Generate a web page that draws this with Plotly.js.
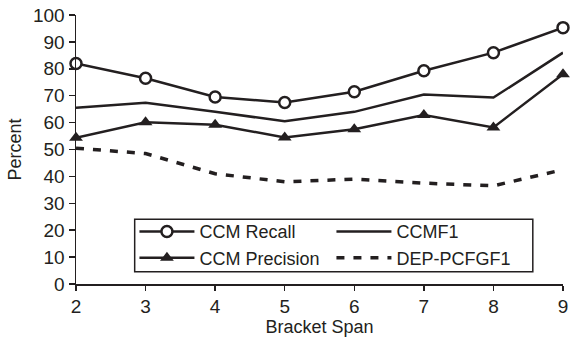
<!DOCTYPE html>
<html>
<head>
<meta charset="utf-8">
<script src="https://cdn.plot.ly/plotly-3.0.1.min.js"></script>
<style>html,body{margin:0;padding:0;background:#fff;}#chart{width:570px;height:341px;}</style>
</head>
<body>
<div id="chart"></div>
<script>
var bracketSpan = [2, 3, 4, 5, 6, 7, 8, 9];
var ccmRecall = [82, 76.5, 69.5, 67.5, 71.5, 79.3, 86, 95.3];
var ccmF1 = [65.5, 67.4, 64, 60.5, 64, 70.4, 69.3, 86];
var ccmPrecision = [54.4, 60.1, 59.2, 54.5, 57.5, 62.8, 58.2, 78];
var depPcfgF1 = [50.5, 48.5, 41, 38, 39, 37.5, 36.5, 42.5];
var xTicks = [2, 3, 4, 5, 6, 7, 8, 9];
var yTicks = [0, 10, 20, 30, 40, 50, 60, 70, 80, 90, 100];

var ink = '#231f20';
var traces = [
  {x: bracketSpan, y: ccmRecall, name: 'CCM Recall', mode: 'lines+markers',
   line: {color: ink, width: 2.5},
   marker: {symbol: 'circle', size: 11, color: '#fff', line: {color: ink, width: 2.5}}},
  {x: bracketSpan, y: ccmF1, name: 'CCMF1', mode: 'lines',
   line: {color: ink, width: 2.5}},
  {x: bracketSpan, y: ccmPrecision, name: 'CCM Precision', mode: 'lines+markers',
   line: {color: ink, width: 2.5},
   marker: {symbol: 'triangle-up', size: 12, color: ink, line: {color: ink, width: 0}}},
  {x: bracketSpan, y: depPcfgF1, name: 'DEP-PCFGF1', mode: 'lines',
   line: {color: ink, width: 3.5, dash: '8px,9px'}}
];
traces.forEach(function(t){ t.cliponaxis = false; });

var layout = {
  width: 570, height: 341,
  margin: {l: 76, r: 7, t: 15, b: 57},
  paper_bgcolor: '#fff', plot_bgcolor: '#fff',
  font: {family: 'Liberation Sans, Arial, sans-serif', color: ink, size: 18},
  showlegend: true,
  legend: {
    orientation: 'h', x: 0.12, y: 0.263, xanchor: 'left', yanchor: 'top',
    entrywidth: 127, entrywidthmode: 'pixels', itemwidth: 55,
    borderwidth: 0, bgcolor: 'rgba(0,0,0,0)',
    font: {size: 18, color: ink}, tracegroupgap: 0
  },
  shapes: [{
    type: 'rect', xref: 'paper', yref: 'paper',
    x0: 0.1205, x1: 0.938, y0: 0.0457, y1: 0.2405,
    line: {color: ink, width: 1.5}, fillcolor: '#fff', layer: 'above'
  }],
  xaxis: {
    range: [2, 9], tickvals: xTicks, ticktext: xTicks.map(String),
    showgrid: false, zeroline: false, showline: true, linecolor: ink, linewidth: 1.5,
    ticks: 'outside', ticklen: 5, tickwidth: 1.5, tickcolor: ink,
    tickfont: {size: 19}, title: {text: 'Bracket Span', font: {size: 18}, standoff: 4}
  },
  yaxis: {
    range: [0, 100], tickvals: yTicks, ticktext: yTicks.map(String),
    showgrid: false, zeroline: false, showline: true, linecolor: ink, linewidth: 1.5,
    ticks: 'outside', ticklen: 6, tickwidth: 1.5, tickcolor: ink,
    tickfont: {size: 19}, title: {text: 'Percent', font: {size: 18}, standoff: 6}
  }
};
Plotly.newPlot('chart', traces, layout, {displayModeBar: false, staticPlot: true});
</script>
</body>
</html>
